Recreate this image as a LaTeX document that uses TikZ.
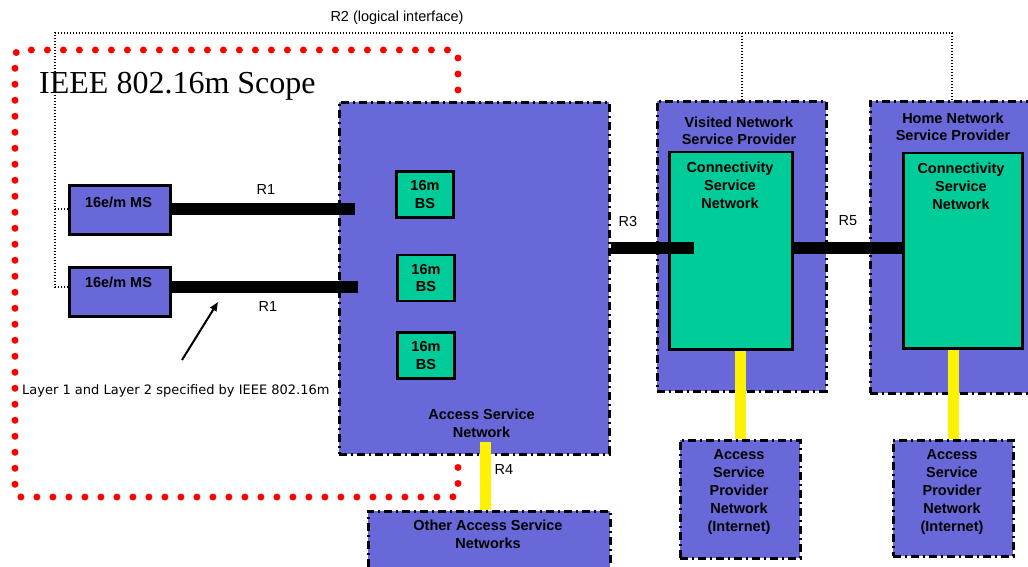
\documentclass[tikz,border=0pt]{standalone}
\usepackage{fontspec}
\setmainfont{Liberation Sans}
\newfontfamily\scopefont{Liberation Serif}
\newfontfamily\notefont{DejaVu Sans}
\usetikzlibrary{arrows.meta}
\definecolor{netblue}{RGB}{104,104,216}
\definecolor{netgreen}{RGB}{0,204,153}
\begin{document}
\begin{tikzpicture}[x=1pt, y=-1pt,
  net/.style = {draw, fill=netblue, line width=2.8pt, dash pattern=on 8pt off 4pt on 2pt off 4pt, anchor=north west, inner sep=0pt},
  ms/.style = {draw, fill=netblue, line width=2.5pt, anchor=north west, inner sep=0pt, minimum width=101pt, minimum height=49pt},
  csn/.style = {draw, fill=netgreen, line width=2.5pt, anchor=north west, inner sep=0pt},
  bs/.style = {draw, fill=netgreen, line width=2.5pt, minimum width=57pt, minimum height=46pt, inner sep=0pt, align=center, font=\bfseries\fontsize{14.5}{17.5}\selectfont},
  lbl/.style = {anchor=base, align=center, inner sep=0pt, font=\bfseries\fontsize{14.5}{17.8}\selectfont},
  rlbl/.style = {anchor=base, inner sep=0pt, font=\fontsize{14.5}{17.5}\selectfont},
  bar/.style = {line width=12pt},
  ybar/.style = {yellow, line width=11pt},
  r2/.style = {line width=1.6pt, dash pattern=on 1.4pt off 1.6pt},
  scopeline/.style = {red, line width=7pt, line cap=round, dash pattern=on 0pt off 16pt}]
\useasboundingbox (0,0) rectangle (1028,567);
\draw[scopeline, rounded corners=6pt] (458,90) -- (458,50) -- (15,50) -- (15,497) -- (458,497) -- (458,457);
\coordinate (e1) at (355,209);
\coordinate (e2) at (358,287);
\coordinate (e3) at (694,248);
\coordinate (r4top) at (485,442);
\coordinate (tail) at (182,360);
\coordinate (tip) at (218,302);
\coordinate (r2l) at (55,33);
\coordinate (r2r) at (952,33);
\node[ms] (ms1) at (68,184) {};
\node[ms] (ms2) at (68,266) {};
\node[net, minimum width=270pt, minimum height=352pt] (asn) at (338,101) {};
\node[bs] (bs1) at (425,194.5) {16m\\BS};
\node[bs] (bs2) at (426,278) {16m\\BS};
\node[bs] (bs3) at (426,355.5) {16m\\BS};
\node[net, minimum width=242pt, minimum height=80pt] (oasn) at (367,510) {};
\node[net, minimum width=169pt, minimum height=290pt] (vnsp) at (656,100) {};
\node[csn, minimum width=123pt, minimum height=197pt] (csn1) at (668,151) {};
\node[net, minimum width=170pt, minimum height=292pt] (hnsp) at (869,100) {};
\node[csn, minimum width=119pt, minimum height=195pt] (csn2) at (902,152) {};
\node[net, minimum width=120pt, minimum height=118pt] (aspn1) at (679,439) {};
\node[net, minimum width=120pt, minimum height=116pt] (aspn2) at (892,439) {};
\draw[r2] (ms2.west |- e2) -| (r2l) -- (r2r) -- (r2r |- hnsp.north);
\draw[r2] (r2l |- e1) -- (ms1.west |- e1);
\draw[r2] (r2l -| vnsp.north) -- (vnsp.north);
\node[lbl] (ms1t) at (118.5,207) {16e/m MS};
\node[lbl] (ms2t) at (118.5,287) {16e/m MS};
\node[lbl] (asnt) at (481.5,437) {Access Service\\Network};
\node[lbl] (oasnt) at (488,548) {Other Access Service\\Networks};
\node[lbl] (vnspt) at (739,145) {Visited Network\\Service Provider};
\node[lbl] (csn1t) at (730,208) {Connectivity\\Service\\Network};
\node[lbl] (hnspt) at (953,141) {Home Network\\Service Provider};
\node[lbl] (csn2t) at (961,209) {Connectivity\\Service\\Network};
\node[lbl] (aspn1t) at (739,531) {Access\\Service\\Provider\\Network\\(Internet)};
\node[lbl] (aspn2t) at (952,531) {Access\\Service\\Provider\\Network\\(Internet)};
\node[rlbl] (r2t) at (397,22) {R2 (logical interface)};
\node[rlbl] (r1a) at (266,194) {R1};
\node[rlbl] (r1b) at (268,311) {R1};
\node[rlbl] (r3t) at (628,226) {R3};
\node[rlbl] (r5t) at (848,225) {R5};
\node[rlbl] (r4t) at (504,474) {R4};
\node[anchor=base west, inner sep=0pt, font=\notefont\fontsize{13}{15}\selectfont] (note) at (22,394) {Layer 1 and Layer 2 specified by IEEE 802.16m};
\node[anchor=base west, inner sep=0pt, font=\scopefont\fontsize{32}{38}\selectfont] (scope) at (39,94) {IEEE 802.16m Scope};
\draw[bar] (ms1.east |- e1) -- (e1);
\draw[bar] (ms2.east |- e2) -- (e2);
\draw[bar] (asn.east |- e3) -- (e3);
\draw[bar] (csn1.east |- e3) -- (csn2.west |- e3);
\draw[ybar] (csn1.south -| aspn1.north) -- (aspn1.north);
\draw[ybar] (csn2.south -| aspn2.north) -- (aspn2.north);
\draw[ybar] (r4top) -- (r4top |- oasn.north);
\draw[-{Triangle[length=9pt,width=7pt]}, line width=2pt] (tail) -- (tip);
\end{tikzpicture}
\end{document}
